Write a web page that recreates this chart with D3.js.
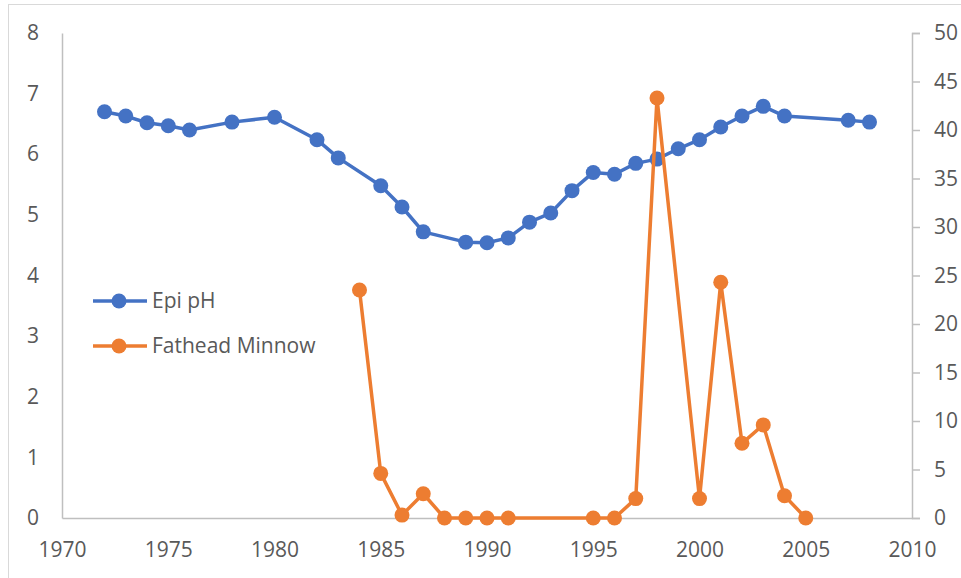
<!DOCTYPE html>
<html>
<head>
<meta charset="utf-8">
<script src="https://cdn.jsdelivr.net/npm/d3@7/dist/d3.min.js"></script>
<style>
  html, body { margin: 0; padding: 0; background: #fff; }
  svg { display: block; }
  text { font-family: "Open Sans", sans-serif; fill: #595959; }
</style>
</head>
<body>
<svg id="chart" width="961" height="578"></svg>
<script>
// ---- Data ----
const phYears = [1972, 1973, 1974, 1975, 1976, 1978, 1980, 1982, 1983, 1985, 1986, 1987, 1989, 1990, 1991, 1992, 1993, 1994, 1995, 1996, 1997, 1998, 1999, 2000, 2001, 2002, 2003, 2004, 2007, 2008];
const phValues = [6.70, 6.63, 6.52, 6.47, 6.40, 6.53, 6.61, 6.24, 5.94, 5.48, 5.13, 4.72, 4.55, 4.54, 4.62, 4.88, 5.03, 5.40, 5.70, 5.67, 5.85, 5.92, 6.09, 6.24, 6.45, 6.63, 6.79, 6.63, 6.56, 6.53];
const minnowYears = [1984, 1985, 1986, 1987, 1988, 1989, 1990, 1991, 1995, 1996, 1997, 1998, 2000, 2001, 2002, 2003, 2004, 2005];
const minnowValues = [23.5, 4.6, 0.3, 2.5, 0, 0, 0, 0, 0, 0, 2.0, 43.3, 2.0, 24.3, 7.7, 9.6, 2.3, 0];
const xTicks = [1970, 1975, 1980, 1985, 1990, 1995, 2000, 2005, 2010];
const leftTicks = [0, 1, 2, 3, 4, 5, 6, 7, 8];
const rightTicks = [0, 5, 10, 15, 20, 25, 30, 35, 40, 45, 50];
const seriesNames = ["Epi pH", "Fathead Minnow"];
const seriesColors = ["#4472C4", "#ED7D31"];

(function () {
// ---- Layout ----
const svg = d3.select("#chart");
const mLeft = 62, mRight = 912, mTop = 33, mBottom = 518;
const axisColor = "#BFBFBF";

svg.append("rect")
  .attr("x", 8.5).attr("y", 4.5).attr("width", 970).attr("height", 600)
  .attr("fill", "none").attr("stroke", "#D9D9D9").attr("stroke-width", 1);

const x = d3.scaleLinear().domain([1970, 2010]).range([mLeft, mRight]);
const yL = d3.scaleLinear().domain([0, 8]).range([mBottom, mTop]);
const yR = d3.scaleLinear().domain([0, 50]).range([mBottom, mTop]);

// Bottom axis
const xAxis = svg.append("g").attr("transform", `translate(0,${mBottom})`)
  .call(d3.axisBottom(x).tickValues(xTicks).tickFormat(d3.format("d")).tickSize(0).tickPadding(24));
xAxis.select(".domain").attr("stroke", axisColor).attr("stroke-width", 1.5);
xAxis.selectAll("text").style("font-size", "21px").attr("fill", "#595959").attr("font-family", "Open Sans");

// Left axis
const lAxis = svg.append("g").attr("transform", `translate(${mLeft},0)`)
  .call(d3.axisLeft(yL).tickValues(leftTicks).tickFormat(d3.format("d")).tickSize(0).tickPadding(23));
lAxis.select(".domain").attr("stroke", axisColor).attr("stroke-width", 1.5);
lAxis.selectAll("text").style("font-size", "21px").attr("fill", "#595959").attr("font-family", "Open Sans");

// Right axis
const rAxis = svg.append("g").attr("transform", `translate(${mRight},0)`)
  .call(d3.axisRight(yR).tickValues(rightTicks).tickFormat(d3.format("d")).tickSizeInner(8).tickSizeOuter(8).tickPadding(14));
rAxis.select(".domain").attr("stroke", axisColor).attr("stroke-width", 1.5);
rAxis.selectAll(".tick line").attr("stroke", axisColor).attr("stroke-width", 1.5);
rAxis.selectAll("text").style("font-size", "21px").attr("fill", "#595959").attr("font-family", "Open Sans");

// Series
const phData = phYears.map((yr, i) => [yr, phValues[i]]);
const minData = minnowYears.map((yr, i) => [yr, minnowValues[i]]);

function drawSeries(data, yScale, color) {
  const line = d3.line().x(d => x(d[0])).y(d => yScale(d[1]));
  const g = svg.append("g");
  g.append("path").datum(data).attr("d", line)
    .attr("fill", "none").attr("stroke", color).attr("stroke-width", 3.5)
    .attr("stroke-linejoin", "round");
  g.selectAll("circle").data(data).join("circle")
    .attr("cx", d => x(d[0])).attr("cy", d => yScale(d[1])).attr("r", 7.5)
    .attr("fill", color);
}
drawSeries(phData, yL, seriesColors[0]);
drawSeries(minData, yR, seriesColors[1]);

// Legend
const legendY = [301, 346];
seriesNames.forEach((name, i) => {
  const g = svg.append("g");
  g.append("line").attr("x1", 93).attr("x2", 147).attr("y1", legendY[i]).attr("y2", legendY[i])
    .attr("stroke", seriesColors[i]).attr("stroke-width", 3.5);
  g.append("circle").attr("cx", 119).attr("cy", legendY[i]).attr("r", 7.5).attr("fill", seriesColors[i]);
  g.append("text").attr("x", 152).attr("y", legendY[i]).attr("dy", "0.35em")
    .style("font-size", "21px").text(name);
});
})();
</script>
</body>
</html>
